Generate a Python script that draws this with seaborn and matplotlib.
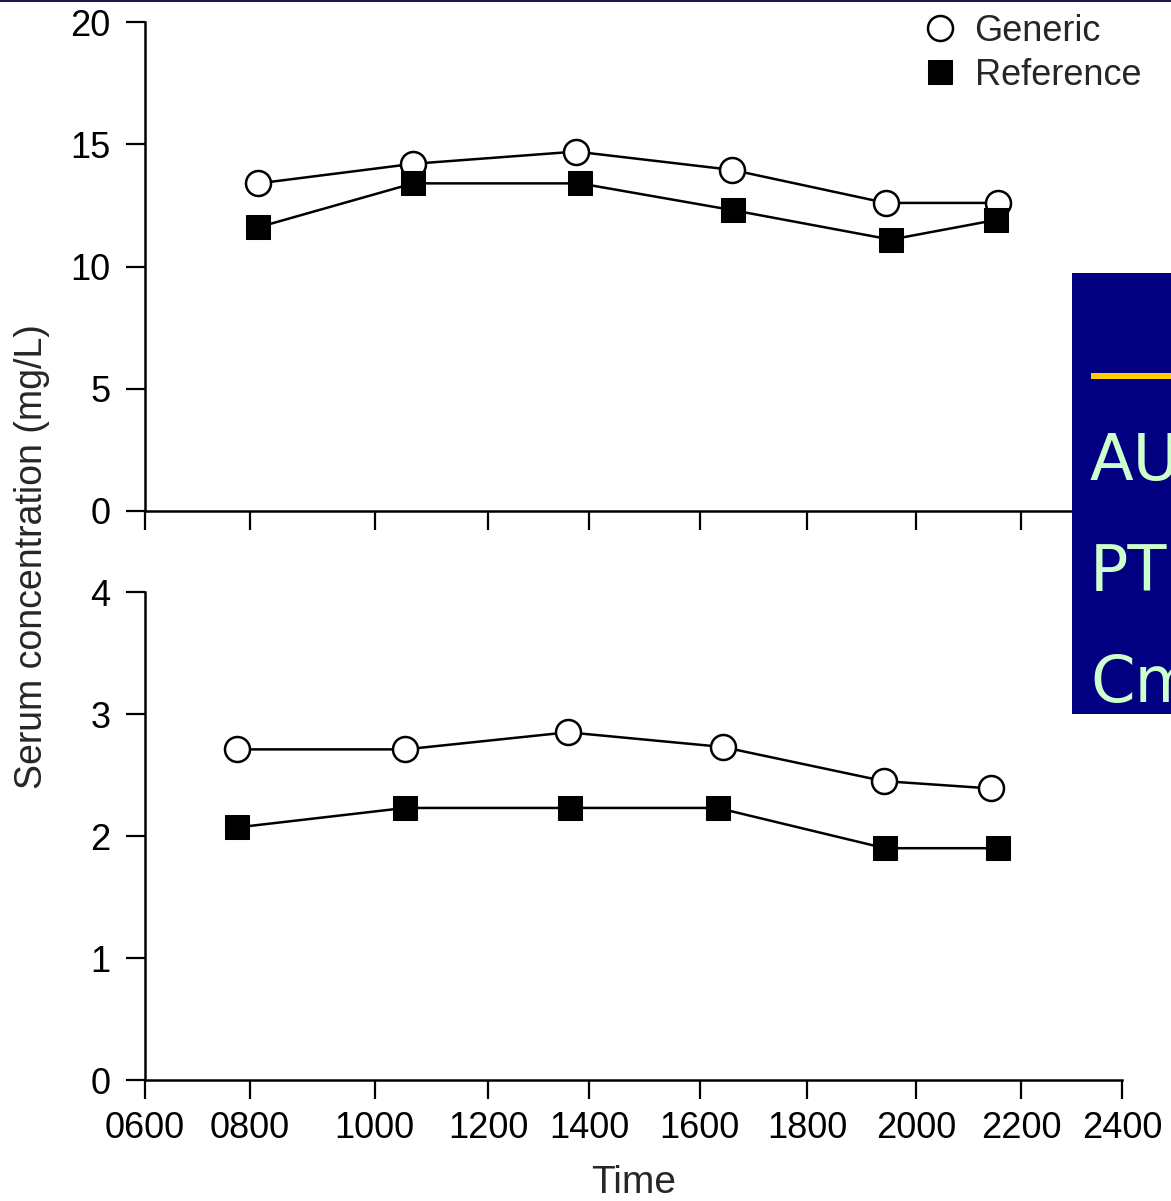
import matplotlib
matplotlib.use('Agg')
import matplotlib.pyplot as plt
from matplotlib.patches import Rectangle
import seaborn as sns

# ── Data (clock time in hours, serum concentration in mg/L) ──────────────────
tick_labels = ['0600', '0800', '1000', '1200', '1400', '1600', '1800', '2000', '2200', '2400']
# the original axis is drawn unevenly; these are where its ticks sit (in hours)
tick_pos = [6, 7.93, 10.23, 12.32, 14.18, 16.22, 18.2, 20.21, 22.14, 24]

top_generic_t = [8.09, 10.94, 13.94, 16.82, 19.65, 21.71]
top_generic_c = [13.4, 14.2, 14.7, 13.95, 12.6, 12.6]
top_reference_t = [8.08, 10.94, 14.01, 16.84, 19.74, 21.67]
top_reference_c = [11.6, 13.4, 13.4, 12.3, 11.1, 11.9]

bot_generic_t = [7.69, 10.79, 13.79, 16.64, 19.61, 21.58]
bot_generic_c = [2.71, 2.71, 2.85, 2.73, 2.45, 2.39]
bot_reference_t = [7.69, 10.79, 13.83, 16.55, 19.63, 21.71]
bot_reference_c = [2.07, 2.23, 2.23, 2.23, 1.90, 1.90]

box_lines = ['AUC', 'PTF', 'Cmax']

sns.set_style('ticks')
plt.rcParams['font.family'] = ['Liberation Sans', 'DejaVu Sans']
plt.rcParams.update({
    'axes.linewidth': 1.8,
    'xtick.major.size': 14, 'ytick.major.size': 14,
    'xtick.major.width': 1.6, 'ytick.major.width': 1.6,
    'xtick.major.pad': 8, 'ytick.major.pad': 11,
    'xtick.labelsize': 26, 'ytick.labelsize': 26,
    'axes.edgecolor': 'black', 'xtick.color': 'black', 'ytick.color': 'black',
})

W, H = 1171, 1201
fig = plt.figure(figsize=(W / 100, H / 100), dpi=100)
ax_top = fig.add_axes([145 / W, 1 - 511 / H, 977 / W, 489 / H])
ax_bot = fig.add_axes([145 / W, 1 - 1080 / H, 977 / W, 488 / H], sharex=ax_top)

generic_style = dict(color='black', marker='o', markersize=18, markerfacecolor='white',
                     markeredgecolor='black', markeredgewidth=1.8, linewidth=1.8)
reference_style = dict(color='black', marker='s', markersize=17, markerfacecolor='black',
                       markeredgecolor='black', linewidth=1.8)

sns.lineplot(x=top_generic_t, y=top_generic_c, ax=ax_top, label='Generic', **generic_style)
sns.lineplot(x=top_reference_t, y=top_reference_c, ax=ax_top, label='Reference', **reference_style)
sns.lineplot(x=bot_generic_t, y=bot_generic_c, ax=ax_bot, legend=False, **generic_style)
sns.lineplot(x=bot_reference_t, y=bot_reference_c, ax=ax_bot, legend=False, **reference_style)

for ax in (ax_top, ax_bot):
    sns.despine(ax=ax)
    ax.set_xlim(6, 24)
    ax.set_xticks(tick_pos)
    ax.set_xlabel('')
    ax.set_ylabel('')

ax_top.set_ylim(0, 20)
ax_top.set_yticks([0, 5, 10, 15, 20])
ax_top.tick_params(axis='x', labelbottom=False)
ax_bot.set_ylim(0, 4)
ax_bot.set_yticks([0, 1, 2, 3, 4])
ax_bot.set_xticklabels(tick_labels)
ax_bot.set_xlabel('Time', fontsize=28, labelpad=14)

fig.text(32 / W, 1 - 557 / H, 'Serum concentration (mg/L)', rotation=90,
         fontsize=27, ha='center', va='center')

leg = ax_top.legend(loc='upper left', bbox_to_anchor=(924 / W, 1 - 14 / H),
                    bbox_transform=fig.transFigure, frameon=False, fontsize=26,
                    handlelength=0.9, handletextpad=0.5, borderpad=0, borderaxespad=0,
                    labelspacing=0.25)
for h in leg.legend_handles:
    h.set_linestyle('none')

# slide frame remnants: top border and the clipped navy text box
fig.add_artist(Rectangle((0, 1 - 2 / H), 1, 2 / H, transform=fig.transFigure,
                         facecolor='#1b1b4d', edgecolor='none', zorder=20))
fig.add_artist(Rectangle((1072 / W, 1 - 714 / H), 99 / W, 441 / H, transform=fig.transFigure,
                         facecolor='#000080', edgecolor='none', zorder=20))
fig.add_artist(Rectangle((1091 / W, 1 - 379 / H), 80 / W, 6 / H, transform=fig.transFigure,
                         facecolor='#ffcc00', edgecolor='none', zorder=21))
for i, txt in enumerate(box_lines):
    fig.text(1090 / W, 1 - (480 + i * 111) / H, txt, fontsize=46, color='#ccffcc',
             family='DejaVu Sans', ha='left', va='baseline', zorder=22)

fig.savefig('out.png', dpi=100)
